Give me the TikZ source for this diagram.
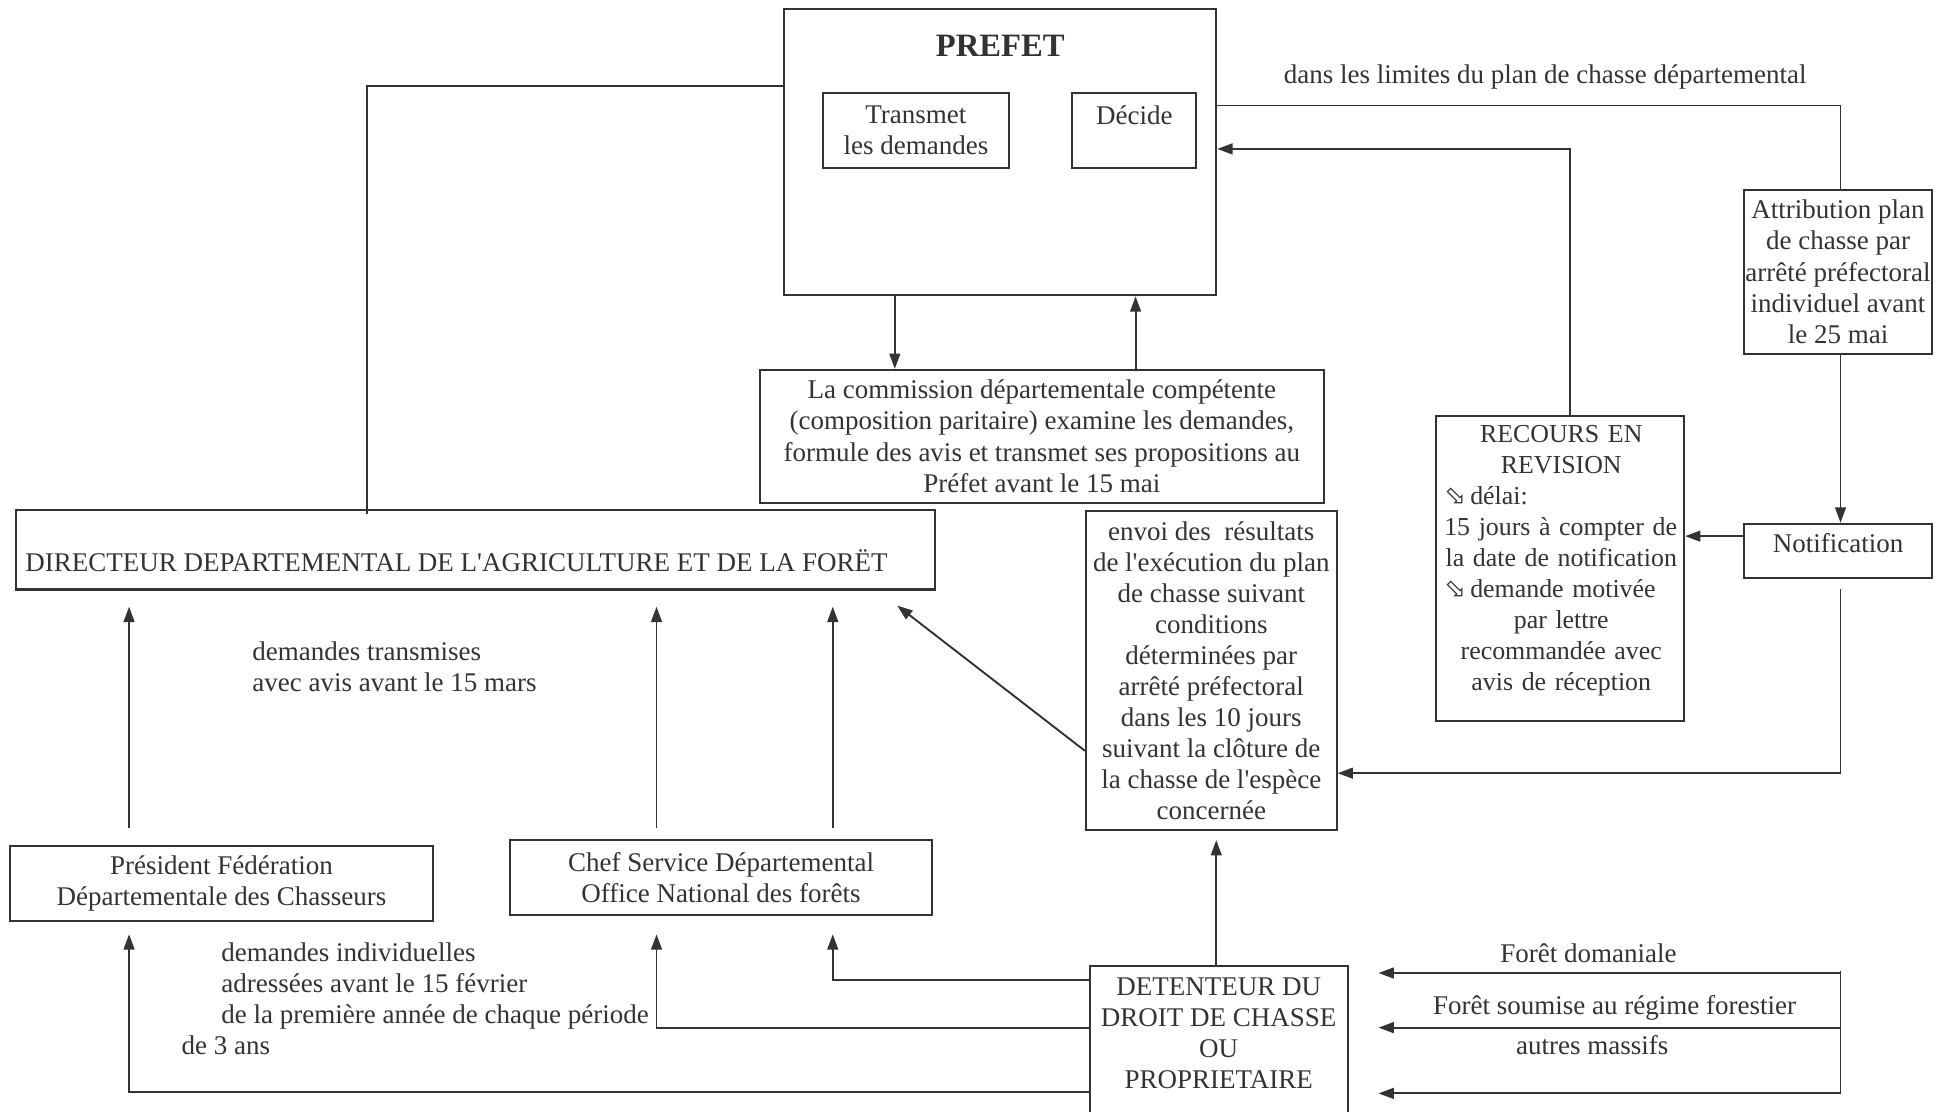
\documentclass[tikz,border=0pt]{standalone}
\usepackage{fontspec}
\setmainfont{Liberation Serif}[Ligatures=TeXOff]
\newfontfamily\symfont{DejaVu Sans}
\usetikzlibrary{arrows.meta}
\definecolor{ink}{HTML}{333333}
\begin{document}
\begin{tikzpicture}[x=0.5516pt,y=-0.5516pt,
  box/.style={draw=ink, line width=0.9pt, inner sep=0pt, align=center, text=ink, font=\fontsize{12}{13.8}\selectfont},
  txt/.style={text=ink, inner sep=0pt, font=\fontsize{12}{13.8}\selectfont},
  ln/.style={draw=ink, line width=0.85pt},
  arr/.style={ln, -{Triangle[length=6.8pt,width=4.8pt]}}]
\useasboundingbox[fill=white] (0,0) rectangle (1568,896);

% helper columns / rows
\coordinate (xA) at (104,0);
\coordinate (xB) at (529,0);
\coordinate (xC) at (671,0);
\coordinate (xL) at (296,0);
\coordinate (xR) at (1483,0);
\coordinate (xT) at (721,0);
\coordinate (xD) at (915,0);
\coordinate (xV) at (1265,0);
\coordinate (xE) at (980,0);
\coordinate (y69) at (0,69);
\coordinate (y85) at (0,85);
\coordinate (y120) at (0,120);
\coordinate (y432) at (0,432);
\coordinate (y623) at (0,623);
\coordinate (y605) at (0,605);
\coordinate (y790) at (0,790);
\coordinate (y828) at (0,828);
\coordinate (y880) at (0,880);

% boxes
\node[box, minimum width=191.96pt, minimum height=127.4pt] (prefet) at (806,122.5) {};
\node[txt, font=\bfseries\fontsize{14.5}{16}\selectfont] (prefett) at (806,37) {PREFET};
\node[box, minimum width=82.74pt, minimum height=33.1pt] (transmet) at (738,105) {Transmet\\les demandes};
\node[box, minimum width=55.16pt, minimum height=33.1pt] (decide) at (914,105) {Décide\\\mbox{}};
\node[box, minimum width=251.0pt, minimum height=59.0pt] (commission) at (839.5,351.5)
  {La commission départementale compétente\\(composition paritaire) examine les demandes,\\formule des avis et transmet ses propositions au\\Préfet avant le 15 mai};
\node[box, minimum width=83.84pt, minimum height=72.8pt] (attrib) at (1481,219)
  {Attribution plan\\de chasse par\\arrêté préfectoral\\individuel avant\\le 25 mai};
\node[box, minimum width=83.84pt, minimum height=24.27pt] (notif) at (1481,444) {};
\node[txt] (notift) at (1481,438) {Notification};
\node[box, minimum width=110.3pt, minimum height=135.7pt] (recours) at (1257,458) {};
\node[txt, text width=104pt, align=center, font=\fontsize{11.5}{13.8}\selectfont] (recourst) at (1258,452)
  {RECOURS EN\\REVISION\\\makebox[\linewidth][l]{{\symfont ⬂}\,délai:}\\\makebox[\linewidth][l]{15 jours à compter de}\\\mbox{la date de notification}\\\makebox[\linewidth][l]{{\symfont ⬂}\,demande motivée}\\par lettre\\recommandée avec\\avis de réception};
\node[box, minimum width=111.4pt, minimum height=141.8pt] (envoi) at (976,540.5)
  {envoi des\ \ résultats\\de l'exécution du plan\\de chasse suivant\\conditions\\déterminées par\\arrêté préfectoral\\dans les 10 jours\\suivant la clôture de\\la chasse de l'espèce\\concernée};
\node[box, minimum width=408.2pt, minimum height=35.3pt] (ddaf) at (383,443) {};
\node[txt, anchor=west] (ddaft) at (20,452) {DIRECTEUR DEPARTEMENTAL DE L'AGRICULTURE ET DE LA FORËT};
\node[box, minimum width=188.1pt, minimum height=33.1pt] (president) at (178.5,712)
  {Président Fédération\\Départementale des Chasseurs};
\node[box, minimum width=187.5pt, minimum height=33.1pt] (chef) at (581,707)
  {Chef Service Départemental\\Office National des forêts};
\node[box, minimum width=114.7pt, minimum height=78.3pt] (det) at (982,849) {};
\node[txt, align=center] (dett) at (982,832.5) {DETENTEUR DU\\DROIT DE CHASSE\\OU\\PROPRIETAIRE};

% labels
\node[txt] (lim) at (1245,62) {dans les limites du plan de chasse départemental};
\node[txt, anchor=west, align=left] (dtrans) at (203,537.5) {demandes transmises\\avec avis avant le 15 mars};
\node[txt, anchor=west, align=left] (dind) at (146,805)
  {\hspace*{17.7pt}demandes individuelles\\\hspace*{17.7pt}adressées avant le 15 février\\\hspace*{17.7pt}de la première année de chaque période\\de 3 ans};
\node[txt] (fdom) at (1280,768) {Forêt domaniale};
\node[txt] (fsou) at (1301,812) {Forêt soumise au régime forestier};
\node[txt] (fmas) at (1283,842) {autres massifs};

% connectors
\draw[ln] (prefet.west |- y69) -- (xL |- y69) -- ([yshift=-2pt]ddaf.north -| xL);
\draw[ln] (prefet.east |- y85) -- (xR |- y85) -- (attrib.north -| xR);
\draw[arr] (recours.north -| xV) |- (prefet.east |- y120);
\draw[arr] (attrib.south -| xR) -- (notif.north -| xR);
\draw[arr] (notif.west |- y432) -- (recours.east |- y432);
\draw[arr] ([yshift=-4.4pt]notif.south -| xR) |- (envoi.east |- y623);
\draw[arr] (prefet.south -| xT) -- (commission.north -| xT);
\draw[arr] (commission.north -| xD) -- (prefet.south -| xD);
\coordinate (dtip) at (723,488);
\draw[arr] (envoi.west |- y605) -- (dtip);
\draw[arr, shorten <=7.7pt, shorten >=7.2pt] (president.north -| xA) -- (ddaf.south -| xA);
\draw[arr, shorten <=5pt, shorten >=7.2pt] (chef.north -| xB) -- (ddaf.south -| xB);
\draw[arr, shorten <=5pt, shorten >=7.2pt] (chef.north -| xC) -- (ddaf.south -| xC);
\draw[arr, shorten >=8.3pt] (det.west |- y790) -| (chef.south -| xC);
\draw[arr, shorten >=8.3pt] (det.west |- y828) -| (chef.south -| xB);
\draw[arr, shorten >=5.5pt] (det.west |- y880) -| (president.south -| xA);
\draw[arr, shorten >=3.9pt] (det.north -| xE) -- (envoi.south -| xE);
\coordinate (s0) at (1483,782);
\coordinate (s1) at (1483,784);
\coordinate (s2) at (1483,828);
\coordinate (s3) at (1483,881);
\draw[ln] (s0) -- (s3);
\draw[arr, shorten >=13.2pt] (s1) -- (det.east |- s1);
\draw[arr, shorten >=13.2pt] (s2) -- (det.east |- s2);
\draw[arr, shorten >=13.2pt] (s3) -- (det.east |- s3);
\end{tikzpicture}
\end{document}
